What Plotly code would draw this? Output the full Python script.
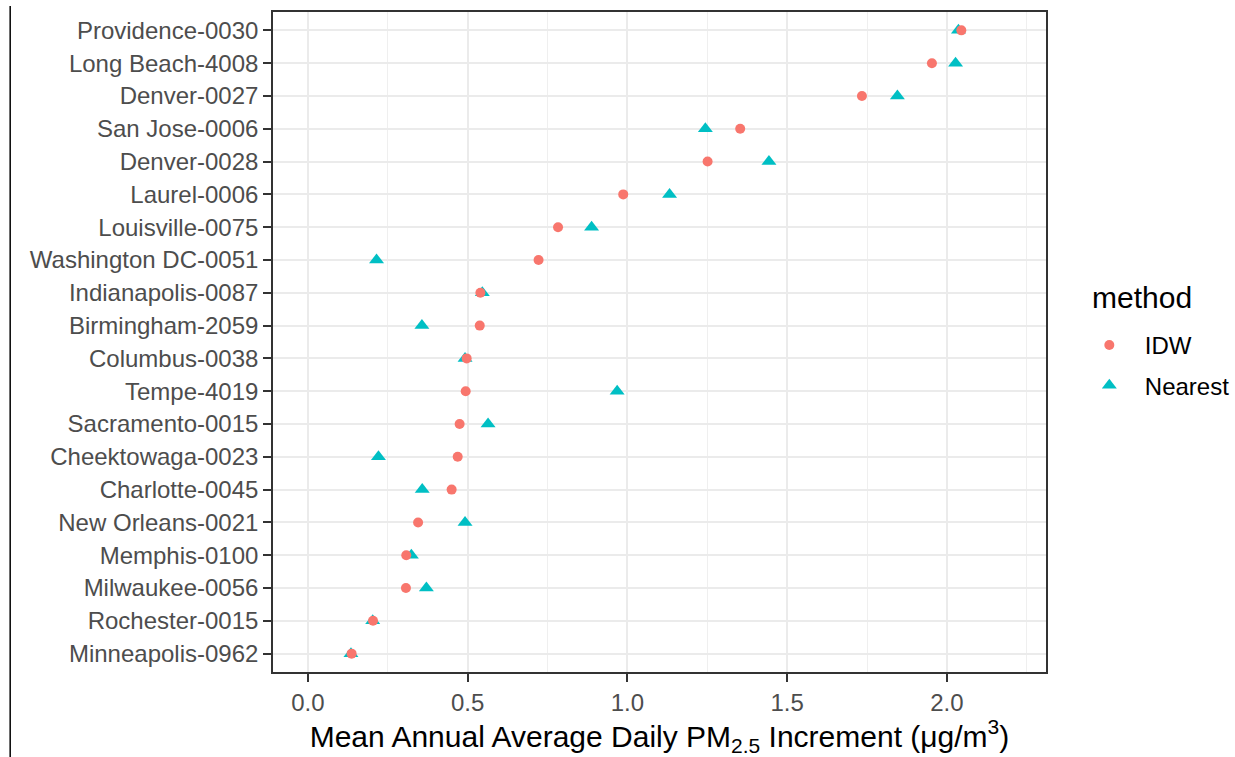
import plotly.graph_objects as go

# Sites, listed top to bottom as in the chart
sites = [
    "Providence-0030", "Long Beach-4008", "Denver-0027", "San Jose-0006",
    "Denver-0028", "Laurel-0006", "Louisville-0075", "Washington DC-0051",
    "Indianapolis-0087", "Birmingham-2059", "Columbus-0038", "Tempe-4019",
    "Sacramento-0015", "Cheektowaga-0023", "Charlotte-0045", "New Orleans-0021",
    "Memphis-0100", "Milwaukee-0056", "Rochester-0015", "Minneapolis-0962",
]
idw = [2.045, 1.953, 1.734, 1.353, 1.251, 0.987, 0.783, 0.722, 0.540, 0.538,
       0.497, 0.494, 0.475, 0.469, 0.450, 0.345, 0.308, 0.307, 0.204, 0.137]
nearest = [2.036, 2.027, 1.845, 1.244, 1.443, 1.132, 0.888, 0.215, 0.546, 0.357,
           0.492, 0.968, 0.564, 0.221, 0.358, 0.492, 0.324, 0.371, 0.203, 0.135]
x_ticks = [0.0, 0.5, 1.0, 1.5, 2.0]
x_tick_labels = ["0.0", "0.5", "1.0", "1.5", "2.0"]
legend_title = "method"

FONT = "Liberation Sans, Arial, sans-serif"

fig = go.Figure()
fig.add_trace(go.Scatter(
    x=nearest, y=sites, mode="markers", name="Nearest",
    legendgroup="b", legendrank=2,
    marker=dict(symbol="triangle-up", size=13, color="#00BFC4", line=dict(width=0)),
))
fig.add_trace(go.Scatter(
    x=idw, y=sites, mode="markers", name="IDW",
    legendgroup="a", legendrank=1,
    marker=dict(symbol="circle", size=10, color="#F8766D", line=dict(width=0)),
))

fig.update_layout(
    width=1235, height=757,
    margin=dict(l=273, r=189, t=12, b=85, autoexpand=False),
    paper_bgcolor="white", plot_bgcolor="white",
    font=dict(family=FONT, size=24, color="#000000"),
    legend=dict(
        font=dict(size=24, color="#000000"),
        x=1.036, xanchor="left", y=0.529, yanchor="top",
        itemwidth=61,
        tracegroupgap=6, bgcolor="rgba(0,0,0,0)",
    ),
    xaxis=dict(
        range=[-0.109, 2.310], automargin=False,
        tickmode="array", tickvals=x_ticks, ticktext=x_tick_labels,
        tickfont=dict(size=24, color="#4D4D4D"),
        ticks="outside", ticklen=8, tickwidth=1.8, tickcolor="#333333",
        showgrid=True, gridcolor="#EBEBEB", gridwidth=2.2,
        minor=dict(tickmode="array", tickvals=[0.25, 0.75, 1.25, 1.75, 2.25],
                   showgrid=True, gridcolor="#EFEFEF", gridwidth=1.2, ticks=""),
        showline=True, linecolor="#333333", linewidth=1.6, mirror=True,
        zeroline=False,
        title=dict(text="Mean Annual Average Daily PM<sub>2.5</sub> Increment (μg/m<sup>3</sup>)",
                   font=dict(size=30, color="#000000"), standoff=20),
    ),
    yaxis=dict(
        type="category", categoryorder="array", categoryarray=sites[::-1],
        range=[-0.56, 19.56], automargin=False,
        tickfont=dict(size=24, color="#4D4D4D"),
        ticks="outside", ticklen=8, tickwidth=1.8, tickcolor="#333333",
        showgrid=True, gridcolor="#EBEBEB", gridwidth=2.2,
        showline=True, linecolor="#333333", linewidth=1.6, mirror=True,
        zeroline=False,
    ),
    annotations=[dict(text=legend_title, xref="paper", yref="paper",
                      x=1.057, y=0.567, xanchor="left", yanchor="middle",
                      showarrow=False, font=dict(size=30, color="#000000"))],
    shapes=[dict(type="line", xref="paper", yref="paper",
                 x0=-0.340, x1=-0.340, y0=1.009, y1=-0.2,
                 line=dict(color="#000000", width=1.5))],
)

fig.write_html("out.html")
